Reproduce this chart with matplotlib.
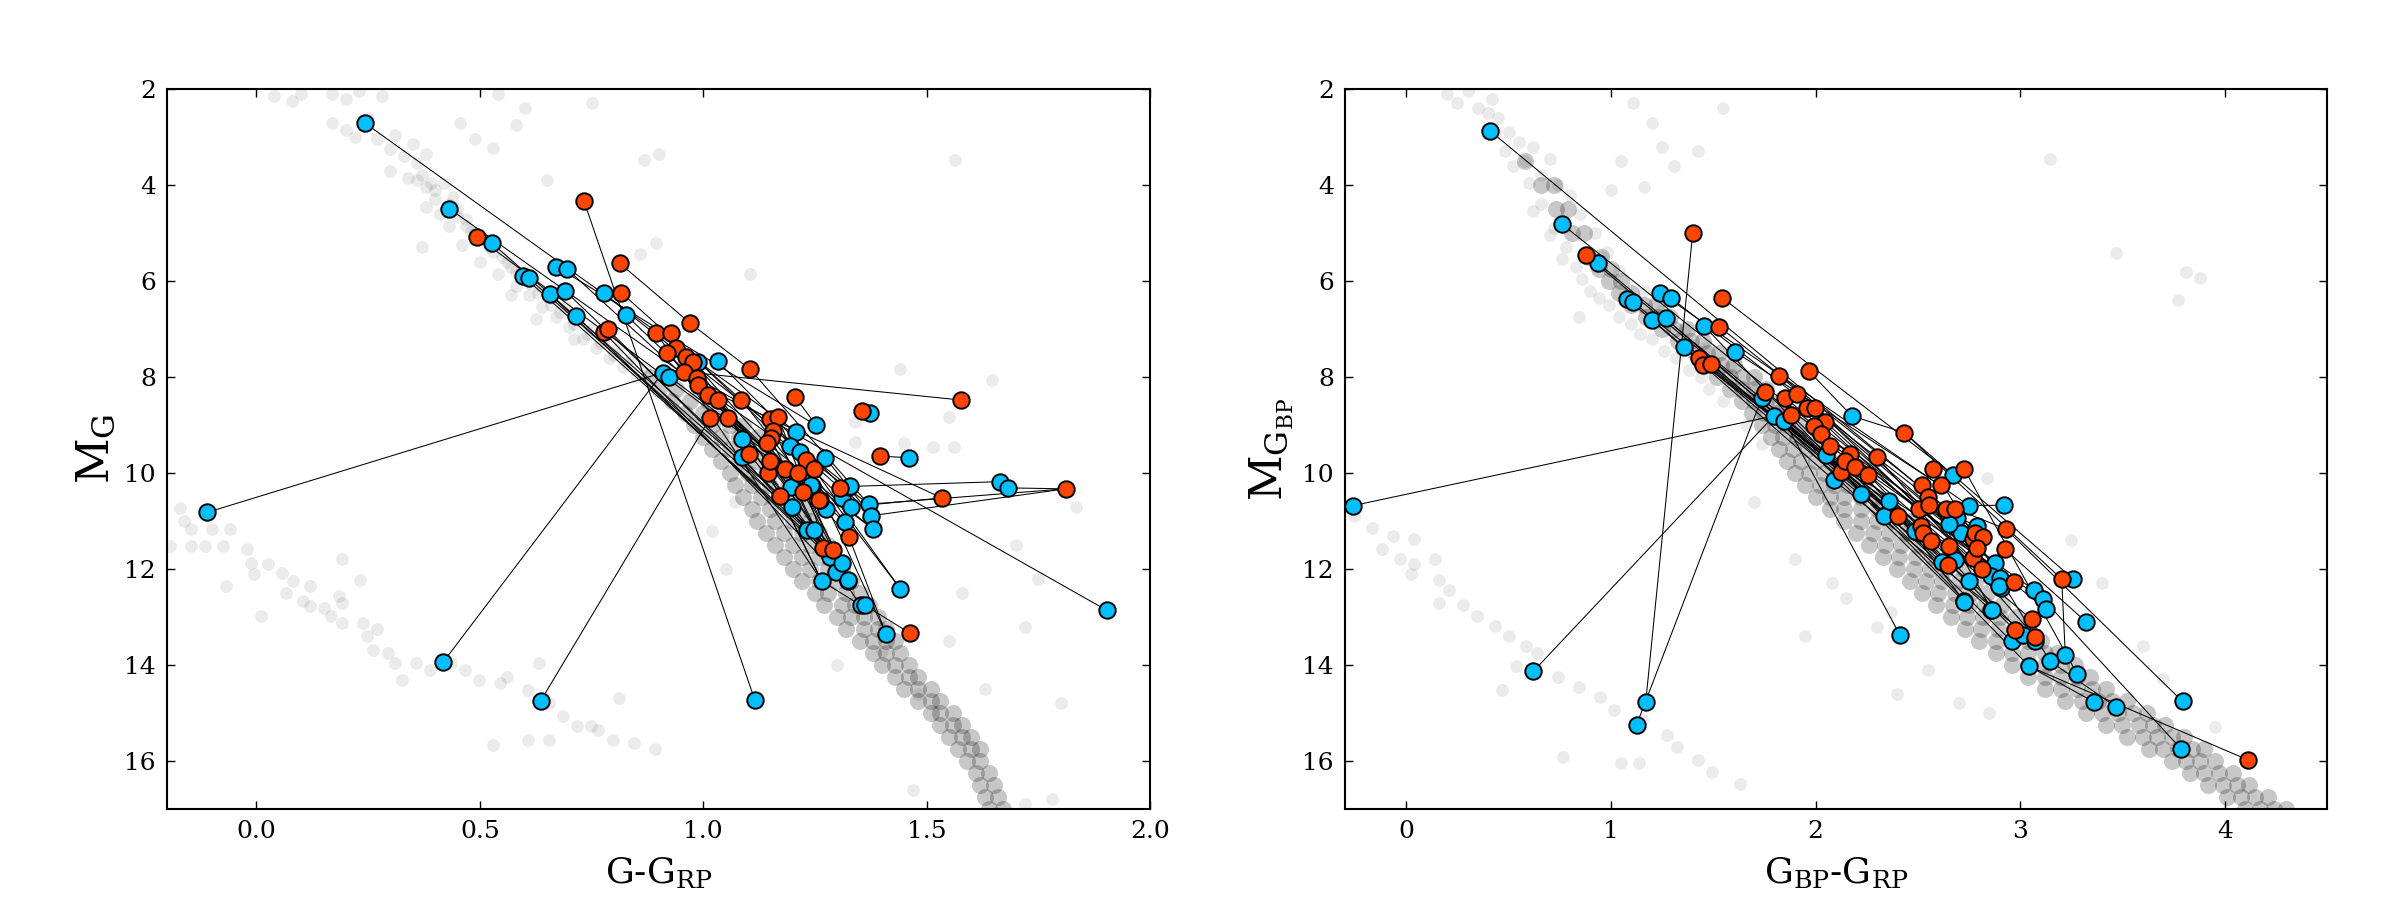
import matplotlib
matplotlib.use('Agg')
import matplotlib.pyplot as plt
from matplotlib.ticker import MultipleLocator

plt.rcParams['font.family'] = ['DejaVu Serif']
plt.rcParams['mathtext.fontset'] = 'dejavuserif'

BLUE = '#00bfff'
RED = '#ff4500'

# ---------------- left panel: G-G_RP vs M_G ----------------
# pairs: (colour a, x a, y a, colour b, x b, y b)
left_links = [
    ('b', 0.243, 2.71, 'b', 1.208, 9.14),
    ('b', 0.431, 4.49, 'r', 1.229, 9.73),
    ('r', 0.494, 5.08, 'b', 1.243, 10.27),
    ('b', 0.527, 5.21, 'r', 1.172, 10.47),
    ('r', 0.733, 4.33, 'b', 1.115, 14.72),
    ('b', 0.671, 5.70, 'b', 1.253, 9.01),
    ('b', 0.695, 5.75, 'r', 1.261, 10.56),
    ('r', 0.813, 5.63, 'r', 0.971, 6.88),
    ('r', 0.971, 6.88, 'r', 1.105, 7.84),
    ('r', 1.105, 7.84, 'b', 1.370, 10.65),
    ('b', 0.597, 5.90, 'b', 1.233, 11.19),
    ('b', 0.609, 5.94, 'b', 1.247, 11.19),
    ('b', 0.657, 6.28, 'r', 1.268, 11.56),
    ('b', 0.691, 6.21, 'b', 1.199, 10.71),
    ('b', 0.777, 6.26, 'b', 1.327, 10.29),
    ('r', 0.816, 6.24, 'r', 1.307, 10.32),
    ('b', 0.716, 6.73, 'b', 1.284, 11.76),
    ('b', 0.827, 6.71, 'b', 1.317, 11.03),
    ('r', 0.777, 7.06, 'b', 1.296, 12.06),
    ('r', 0.787, 7.01, 'b', 1.310, 11.87),
    ('r', 0.895, 7.08, 'b', 1.265, 12.25),
    ('r', 0.928, 7.09, 'r', 1.291, 11.61),
    ('r', 0.940, 7.39, 'b', 1.324, 12.24),
    ('r', 0.920, 7.51, 'b', 1.274, 10.75),
    ('r', 0.962, 7.58, 'b', 1.353, 12.76),
    ('r', 0.977, 7.68, 'r', 1.326, 11.33),
    ('b', 0.989, 7.68, 'b', 1.331, 10.70),
    ('b', 1.032, 7.67, 'b', 1.376, 10.89),
    ('r', 0.957, 7.89, 'r', 1.577, 8.48),
    ('b', 0.909, 7.91, 'b', -0.110, 10.82),
    ('b', 0.909, 7.91, 'b', 0.418, 13.94),
    ('b', 0.923, 7.99, 'b', 1.379, 11.16),
    ('r', 0.987, 8.03, 'b', 1.903, 12.86),
    ('r', 0.989, 8.17, 'r', 1.534, 10.52),
    ('r', 1.011, 8.38, 'b', 1.197, 10.30),
    ('r', 1.032, 8.48, 'r', 1.224, 10.40),
    ('r', 1.085, 8.47, 'r', 1.260, 10.56),
    ('r', 1.206, 8.42, 'b', 1.253, 9.01),
    ('r', 1.015, 8.86, 'b', 0.636, 14.75),
    ('r', 1.055, 8.85, 'b', 1.241, 10.25),
    ('r', 1.150, 8.87, 'b', 1.441, 12.41),
    ('r', 1.168, 8.83, 'b', 1.296, 12.06),
    ('r', 1.157, 9.12, 'b', 1.310, 11.87),
    ('r', 1.151, 9.28, 'b', 1.284, 11.76),
    ('r', 1.326, 11.33, 'b', 1.409, 13.35),
    ('b', 1.361, 12.75, 'r', 1.463, 13.34),
    ('b', 1.265, 12.25, 'b', 1.353, 12.76),
    ('r', 1.396, 9.65, 'b', 1.461, 9.68),
    ('r', 1.356, 8.70, 'b', 1.374, 8.74),
    ('b', 1.329, 10.28, 'b', 1.664, 10.18),
    ('b', 1.370, 10.65, 'r', 1.811, 10.33),
    ('b', 1.376, 10.89, 'r', 1.811, 10.33),
    ('b', 1.682, 10.31, 'r', 1.811, 10.33),
    ('b', 1.331, 10.70, 'r', 1.534, 10.52),
    ('r', 1.142, 9.37, 'b', 1.379, 11.16),
    ('b', 1.086, 9.30, 'b', 1.243, 10.27),
    ('r', 1.103, 9.60, 'r', 1.268, 11.56),
    ('b', 1.086, 9.66, 'b', 1.233, 11.19),
    ('r', 1.146, 9.99, 'b', 1.265, 12.25),
    ('r', 1.183, 9.92, 'b', 1.296, 12.06),
    ('r', 1.213, 9.99, 'b', 1.325, 12.23),
    ('r', 1.248, 9.92, 'b', 1.441, 12.41),
    ('b', 1.194, 9.44, 'b', 1.317, 11.03),
    ('b', 1.217, 9.56, 'b', 1.370, 10.65),
    ('b', 1.273, 9.68, 'b', 1.376, 10.89),
    ('r', 1.229, 9.73, 'b', 1.409, 13.35),
    ('r', 1.172, 10.47, 'b', 1.265, 12.25),
    ('r', 1.150, 9.76, 'b', 1.325, 12.23),
    ('r', 1.224, 10.40, 'r', 1.291, 11.61),
]
left_lone_blue = [(1.310, 10.53)]
left_lone_red = []

# dense main-sequence band: (M, list of colours)
left_ms_rows = [
    (8.0, [0.88, 0.92]),
    (8.25, [0.90, 0.94]),
    (8.5, [0.93, 0.97, 1.01]),
    (8.75, [0.96, 1.00, 1.04]),
    (9.0, [0.98, 1.02, 1.06, 1.09]),
    (9.25, [1.00, 1.04, 1.08, 1.12]),
    (9.5, [1.02, 1.06, 1.10, 1.14]),
    (9.75, [1.04, 1.08, 1.12, 1.16]),
    (10.0, [1.06, 1.10, 1.14, 1.18]),
    (10.25, [1.07, 1.11, 1.15, 1.19]),
    (10.5, [1.09, 1.13, 1.17, 1.21]),
    (10.75, [1.11, 1.15, 1.19, 1.23]),
    (11.0, [1.12, 1.16, 1.20, 1.24]),
    (11.25, [1.14, 1.18, 1.22, 1.26]),
    (11.5, [1.16, 1.20, 1.24, 1.28]),
    (11.75, [1.18, 1.22, 1.26, 1.29]),
    (12.0, [1.20, 1.24, 1.28, 1.31]),
    (12.25, [1.22, 1.26, 1.30, 1.33]),
    (12.5, [1.25, 1.28, 1.32, 1.35]),
    (12.75, [1.27, 1.31, 1.34, 1.37]),
    (13.0, [1.30, 1.33, 1.36, 1.39]),
    (13.25, [1.32, 1.36, 1.39, 1.41]),
    (13.5, [1.35, 1.38, 1.41, 1.43]),
    (13.75, [1.38, 1.41, 1.44]),
    (14.0, [1.40, 1.43, 1.46]),
    (14.25, [1.43, 1.46, 1.48]),
    (14.5, [1.45, 1.48, 1.51]),
    (14.75, [1.48, 1.51, 1.53]),
    (15.0, [1.51, 1.53, 1.56]),
    (15.25, [1.53, 1.56, 1.58]),
    (15.5, [1.55, 1.58, 1.60]),
    (15.75, [1.57, 1.60, 1.62]),
    (16.0, [1.59, 1.62]),
    (16.25, [1.61, 1.64]),
    (16.5, [1.62, 1.65]),
    (16.75, [1.63, 1.66]),
    (17.0, [1.64, 1.67]),
]

left_field = [
    (0.04, 2.15), (0.08, 2.25), (0.10, 2.10), (0.17, 2.10), (0.20, 2.20), (0.23, 2.05),
    (0.28, 2.15), (0.17, 2.70), (0.20, 2.85), (0.22, 3.00), (0.25, 2.60), (0.27, 3.05),
    (0.30, 3.25), (0.31, 2.95), (0.33, 3.40), (0.35, 3.15), (0.36, 3.55), (0.38, 3.35),
    (0.30, 3.70), (0.34, 3.85), (0.37, 3.80), (0.39, 3.95), (0.40, 4.10), (0.42, 3.95),
    (0.44, 4.25), (0.38, 4.45), (0.41, 4.60), (0.45, 4.50), (0.47, 4.70), (0.43, 4.85),
    (0.48, 4.95), (0.50, 5.10), (0.46, 5.25), (0.52, 5.30), (0.55, 5.50), (0.50, 5.60),
    (0.57, 5.70), (0.54, 5.85), (0.60, 5.95), (0.58, 6.10), (0.63, 6.10), (0.61, 6.30),
    (0.66, 6.35), (0.64, 6.55), (0.69, 6.55), (0.67, 6.75), (0.72, 6.80), (0.70, 6.95),
    (0.75, 7.00), (0.73, 7.20), (0.78, 7.20), (0.76, 7.40), (0.81, 7.40), (0.79, 7.60),
    (0.84, 7.60), (0.82, 7.80), (0.87, 7.80), (0.85, 8.00),
    (0.36, 3.90), (0.38, 4.05), (0.40, 4.30), (0.43, 4.40), (0.45, 4.65), (0.47, 4.85),
    (0.49, 5.00), (0.52, 5.15), (0.53, 5.40), (0.56, 5.60), (0.58, 5.80), (0.61, 6.05),
    (0.63, 6.25), (0.66, 6.50), (0.68, 6.65), (0.71, 6.90), (0.74, 7.10), (0.77, 7.30),
    (0.80, 7.55), (0.83, 7.70),
    (0.455, 2.71), (0.49, 3.05), (0.53, 3.22), (0.58, 2.75), (0.54, 2.10), (0.90, 3.35),
    (0.37, 5.30), (0.895, 5.20), (0.57, 6.30), (0.625, 6.80), (0.71, 7.20), (0.868, 3.48),
    (1.564, 3.48), (0.859, 5.44), (1.105, 5.85), (1.646, 8.06), (1.44, 7.84), (1.55, 8.83),
    (1.339, 8.93), (1.339, 9.35), (1.45, 9.38), (1.515, 9.45), (1.562, 9.45), (1.834, 10.70),
    (1.70, 11.50), (1.58, 12.50), (1.75, 12.20), (1.72, 13.20), (1.63, 14.50), (1.80, 14.80),
    (1.07, 10.60), (1.02, 11.20), (1.05, 12.00), (1.30, 14.00), (1.48, 14.60), (1.40, 13.70),
    (1.55, 13.50), (0.75, 2.30), (0.60, 2.40), (0.65, 3.90), (1.47, 16.60), (1.78, 16.80),
    (1.72, 16.90),
]

left_wd = [
    (-0.170, 10.72), (-0.162, 11.00), (-0.146, 11.17), (-0.099, 11.17), (-0.060, 11.17),
    (-0.193, 11.52), (-0.146, 11.52), (-0.115, 11.52), (-0.075, 11.52), (-0.020, 11.59),
    (-0.013, 11.87), (0.027, 11.90), (-0.005, 12.11), (0.058, 12.08), (0.082, 12.25),
    (0.121, 12.36), (0.066, 12.49), (0.105, 12.67), (0.121, 12.77), (0.152, 12.81),
    (0.184, 12.56), (0.192, 12.70), (0.168, 12.98), (0.192, 13.12), (0.239, 13.12),
    (0.270, 13.26), (0.247, 13.40), (0.262, 13.68), (0.294, 13.75), (0.310, 13.96),
    (0.325, 14.31), (0.357, 13.96), (0.388, 14.10), (0.435, 13.96), (0.467, 14.10),
    (0.498, 14.31), (0.545, 14.38), (0.561, 14.24), (0.608, 14.52), (0.655, 14.79),
    (0.687, 15.07), (0.718, 15.28), (0.749, 15.28), (0.765, 15.35), (0.797, 15.56),
    (0.844, 15.63), (0.891, 15.74), (0.529, 15.67), (0.608, 15.56), (0.655, 15.56),
    (0.812, 14.69), (0.632, 13.96), (0.011, 12.98), (-0.068, 12.36), (0.192, 11.80),
    (0.231, 12.22),
]

# ---------------- right panel: G_BP-G_RP vs M_G_BP ----------------
right_links = [
    ('b', 0.41, 2.875, 'b', 2.693, 10.93),
    ('b', 0.762, 4.82, 'r', 2.505, 10.75),
    ('r', 0.878, 5.46, 'b', 2.494, 11.22),
    ('b', 0.935, 5.62, 'r', 2.527, 11.24),
    ('b', 1.08, 6.38, 'b', 2.339, 10.88),
    ('b', 1.106, 6.43, 'r', 2.404, 10.90),
    ('b', 1.24, 6.24, 'b', 2.751, 10.68),
    ('b', 1.292, 6.35, 'r', 2.779, 11.26),
    ('r', 1.544, 6.35, 'b', 2.673, 10.04),
    ('b', 1.2, 6.81, 'b', 2.09, 10.15),
    ('b', 1.267, 6.78, 'r', 2.123, 9.97),
    ('b', 1.456, 6.94, 'b', 2.336, 10.89),
    ('b', 1.357, 7.37, 'b', 2.484, 11.21),
    ('b', 1.605, 7.47, 'r', 2.611, 10.26),
    ('r', 1.432, 7.60, 'r', 2.563, 11.41),
    ('r', 1.451, 7.75, 'r', 2.652, 11.52),
    ('r', 1.489, 7.72, 'b', 2.616, 11.85),
    ('r', 1.529, 6.95, 'r', 2.817, 11.33),
    ('r', 1.823, 7.97, 'b', 2.711, 11.24),
    ('r', 1.753, 8.31, 'b', 2.654, 11.06),
    ('b', 1.737, 8.44, 'b', 2.748, 12.25),
    ('r', 1.851, 8.44, 'r', 2.79, 11.57),
    ('r', 1.908, 8.35, 'b', 2.878, 11.88),
    ('b', 1.797, 8.81, 'b', 2.724, 12.67),
    ('b', 1.847, 8.91, 'b', 2.858, 12.86),
    ('r', 1.88, 8.79, 'r', 2.646, 11.92),
    ('r', 1.96, 8.65, 'r', 2.813, 12.01),
    ('r', 1.999, 8.64, 'b', 2.856, 12.15),
    ('r', 2.046, 8.93, 'b', 2.901, 12.19),
    ('r', 1.994, 9.03, 'r', 2.97, 12.28),
    ('r', 2.027, 9.19, 'b', 2.906, 12.40),
    ('r', 2.07, 9.44, 'b', 3.069, 12.44),
    ('b', 2.051, 9.63, 'b', 3.113, 12.63),
    ('r', 2.168, 9.61, 'b', 3.125, 12.83),
    ('r', 2.144, 9.76, 'r', 3.056, 13.05),
    ('r', 2.193, 9.88, 'r', 2.975, 13.28),
    ('r', 2.302, 9.67, 'r', 3.072, 13.41),
    ('r', 2.123, 9.97, 'b', 2.959, 13.51),
    ('r', 2.258, 10.04, 'b', 3.016, 13.38),
    ('b', 2.09, 10.15, 'b', 3.072, 13.51),
    ('b', 2.222, 10.44, 'b', 3.045, 14.03),
    ('r', 2.576, 9.92, 'b', 3.146, 13.92),
    ('r', 2.727, 9.92, 'b', 3.279, 14.19),
    ('r', 2.434, 9.16, 'r', 3.203, 12.21),
    ('r', 2.434, 9.16, 'b', 3.26, 12.21),
    ('r', 3.203, 12.21, 'b', 3.221, 13.80),
    ('b', 3.045, 14.03, 'r', 4.115, 15.98),
    ('b', 3.045, 14.03, 'b', 3.361, 14.77),
    ('b', 3.146, 13.92, 'b', 3.468, 14.87),
    ('r', 2.931, 11.17, 'b', 3.794, 14.76),
    ('b', 3.113, 12.63, 'b', 3.785, 15.74),
    ('b', 2.922, 10.67, 'b', 2.751, 10.68),
    ('b', 3.322, 13.10, 'r', 2.926, 11.59),
    ('b', -0.261, 10.68, 'b', 1.797, 8.81),
    ('b', 0.621, 14.13, 'b', 1.797, 8.81),
    ('b', 1.17, 14.77, 'r', 1.40, 4.99),
    ('b', 1.125, 15.25, 'b', 1.737, 8.44),
    ('b', 2.412, 13.37, 'b', 1.847, 8.91),
    ('b', 2.36, 10.58, 'b', 2.727, 12.68),
    ('r', 2.518, 10.24, 'b', 2.861, 12.85),
    ('r', 2.551, 10.51, 'r', 2.97, 12.28),
    ('r', 1.966, 7.87, 'b', 2.177, 8.81),
    ('b', 2.177, 8.81, 'r', 2.434, 9.16),
    ('r', 2.556, 10.67, 'b', 2.787, 11.10),
    ('r', 2.637, 10.76, 'b', 2.895, 12.36),
    ('r', 2.681, 10.74, 'r', 2.931, 11.17),
]
right_lone_blue = [(2.681, 11.81)]
right_lone_red = [(2.515, 11.10), (2.771, 11.78), (2.772, 11.38)]

right_ms_rows = [
    (3.5, [0.58]),
    (4.0, [0.66, 0.72]),
    (4.5, [0.73, 0.79]),
    (5.0, [0.81, 0.87]),
    (5.5, [0.89, 0.95]),
    (5.75, [0.94, 1.00]),
    (6.0, [0.99, 1.05]),
    (6.25, [1.04, 1.10]),
    (6.5, [1.10, 1.16, 1.22]),
    (6.75, [1.17, 1.23, 1.29]),
    (7.0, [1.25, 1.31, 1.37]),
    (7.25, [1.33, 1.39, 1.45]),
    (7.5, [1.41, 1.47, 1.53]),
    (7.75, [1.48, 1.54, 1.60]),
    (8.0, [1.52, 1.58, 1.64, 1.70]),
    (8.25, [1.58, 1.64, 1.70, 1.76]),
    (8.5, [1.64, 1.70, 1.76, 1.82]),
    (8.75, [1.69, 1.75, 1.81, 1.87]),
    (9.0, [1.74, 1.80, 1.86, 1.92]),
    (9.25, [1.78, 1.84, 1.91, 1.97]),
    (9.5, [1.82, 1.89, 1.96, 2.03]),
    (9.75, [1.86, 1.93, 2.00, 2.07]),
    (10.0, [1.90, 1.97, 2.04, 2.11, 2.18]),
    (10.25, [1.95, 2.02, 2.09, 2.16, 2.23]),
    (10.5, [2.00, 2.07, 2.14, 2.22, 2.30]),
    (10.75, [2.07, 2.14, 2.22, 2.30, 2.38]),
    (11.0, [2.14, 2.22, 2.30, 2.38, 2.46]),
    (11.25, [2.20, 2.28, 2.36, 2.44, 2.52]),
    (11.5, [2.26, 2.34, 2.42, 2.50, 2.58]),
    (11.75, [2.33, 2.41, 2.49, 2.57, 2.65]),
    (12.0, [2.40, 2.48, 2.56, 2.64, 2.72]),
    (12.25, [2.46, 2.54, 2.62, 2.70, 2.78]),
    (12.5, [2.52, 2.60, 2.68, 2.76, 2.84]),
    (12.75, [2.59, 2.67, 2.75, 2.83, 2.91]),
    (13.0, [2.66, 2.74, 2.82, 2.90, 2.98]),
    (13.25, [2.73, 2.81, 2.89, 2.97, 3.04]),
    (13.5, [2.80, 2.88, 2.96, 3.04, 3.10]),
    (13.75, [2.88, 2.96, 3.04, 3.12, 3.18]),
    (14.0, [2.96, 3.04, 3.12, 3.20, 3.27]),
    (14.25, [3.04, 3.12, 3.20, 3.28, 3.34]),
    (14.5, [3.12, 3.20, 3.28, 3.35, 3.42]),
    (14.75, [3.22, 3.30, 3.38, 3.45, 3.52]),
    (15.0, [3.32, 3.40, 3.48, 3.55, 3.62]),
    (15.25, [3.42, 3.50, 3.58, 3.65, 3.71]),
    (15.5, [3.52, 3.60, 3.67, 3.74, 3.80]),
    (15.75, [3.63, 3.70, 3.77, 3.84, 3.90]),
    (16.0, [3.74, 3.81, 3.88, 3.95]),
    (16.25, [3.83, 3.90, 3.97, 4.04]),
    (16.5, [3.92, 3.99, 4.06, 4.12]),
    (16.75, [4.01, 4.08, 4.15, 4.21]),
    (17.0, [4.10, 4.17, 4.24, 4.30]),
]

right_field = [
    (0.246, 2.29), (0.20, 2.10), (0.30, 2.05), (0.35, 2.40), (0.42, 2.20), (0.45, 2.60),
    (0.50, 2.90), (0.55, 3.10), (0.48, 3.30), (0.58, 3.50), (0.62, 3.20), (0.66, 3.80),
    (0.70, 3.45), (0.74, 4.00), (0.66, 4.40), (0.80, 4.20), (0.72, 4.90), (0.85, 4.60),
    (0.78, 5.30), (0.92, 5.00), (0.83, 5.70), (0.98, 5.40), (0.90, 6.20), (1.04, 5.80),
    (0.99, 6.50), (1.16, 6.20), (1.10, 6.90), (1.25, 6.60), (1.20, 7.20), (1.36, 7.00),
    (1.32, 7.60), (1.46, 7.40), (1.44, 8.00), (1.58, 7.80), (1.55, 8.50), (1.70, 8.30),
    (1.66, 9.00), (1.80, 8.80), (1.74, 9.40), (1.90, 9.30),
    (0.40, 2.50), (0.44, 2.90), (0.52, 3.60), (0.60, 3.95), (0.62, 4.55), (0.70, 5.05),
    (0.76, 5.55), (0.86, 5.95), (0.94, 6.35), (1.04, 6.75), (1.14, 7.10), (1.26, 7.45),
    (1.38, 7.85), (1.48, 8.25),
    (1.11, 2.30), (1.20, 2.70), (1.31, 3.60), (1.25, 3.20), (1.424, 3.29), (1.16, 4.04),
    (0.998, 4.10), (0.844, 6.76), (3.144, 3.46), (3.47, 5.41), (3.81, 5.81), (3.88, 5.94),
    (3.77, 6.40), (2.84, 10.10), (1.70, 10.60), (1.90, 11.80), (2.08, 12.30), (2.15, 12.60),
    (1.95, 13.40), (2.30, 13.20), (3.25, 11.40), (3.40, 12.30), (3.60, 13.60), (3.70, 14.30),
    (3.95, 15.30), (2.55, 14.10), (2.70, 14.80), (2.85, 15.00), (1.55, 2.40), (1.05, 3.50),
    (2.37, 12.90), (2.40, 14.60),
]

right_wd = [
    (-0.254, 10.89), (-0.168, 11.14), (-0.065, 11.31), (-0.117, 11.59), (-0.031, 11.80),
    (0.038, 11.90), (0.021, 12.11), (0.158, 12.22), (0.209, 12.43), (0.158, 12.70),
    (0.278, 12.74), (0.346, 12.98), (0.432, 13.19), (0.501, 13.40), (0.587, 13.61),
    (0.638, 13.75), (0.535, 14.03), (0.741, 14.24), (0.844, 14.45), (0.947, 14.66),
    (1.015, 14.93), (1.153, 15.14), (1.273, 15.46), (1.324, 15.70), (1.427, 15.98),
    (1.496, 16.22), (1.633, 16.47), (0.038, 11.38), (0.141, 11.80), (0.467, 14.52),
    (0.768, 15.91), (1.050, 16.05), (1.136, 16.05),
]


def draw_panel(ax, links, lone_blue, lone_red, ms_rows, field, wd):
    ms_x = [x for y, xs in ms_rows for x in xs]
    ms_y = [y for y, xs in ms_rows for x in xs]
    ax.scatter(ms_x, ms_y, s=150, c='k', alpha=0.22, linewidths=0, zorder=1)
    bg = field + wd
    ax.scatter([p[0] for p in bg], [p[1] for p in bg], s=85, c='k',
               alpha=0.08, linewidths=0, zorder=1)

    for ca, xa, ya, cb, xb, yb in links:
        ax.plot([xa, xb], [ya, yb], color='k', lw=0.75, zorder=2)

    blues = dict.fromkeys(lone_blue)
    reds = dict.fromkeys(lone_red)
    for ca, xa, ya, cb, xb, yb in links:
        (blues if ca == 'b' else reds)[(xa, ya)] = None
        (blues if cb == 'b' else reds)[(xb, yb)] = None
    for pts, col in ((blues, BLUE), (reds, RED)):
        ax.scatter([p[0] for p in pts], [p[1] for p in pts], s=140, c=col,
                   edgecolors='k', linewidths=1.4, zorder=3)

    ax.set_ylim(17, 2)
    ax.yaxis.set_major_locator(MultipleLocator(2))
    ax.tick_params(direction='in', top=True, right=True, length=6, width=1,
                   labelsize=18, pad=8)
    for sp in ax.spines.values():
        sp.set_linewidth(1.5)


fig = plt.figure(figsize=(24, 9), dpi=100)

ax1 = fig.add_axes([0.0696, 0.1011, 0.4096, 0.8])
draw_panel(ax1, left_links, left_lone_blue, left_lone_red,
           left_ms_rows, left_field, left_wd)
ax1.set_xlim(-0.2, 2.0)
ax1.xaxis.set_major_locator(MultipleLocator(0.5))
ax1.set_xlabel('G-G$_{\\mathrm{RP}}$', fontsize=26)
ax1.set_ylabel('M$_{\\mathrm{G}}$', fontsize=32)
ax1.xaxis.set_label_coords(0.5, -0.065)
ax1.yaxis.set_label_coords(-0.05, 0.5)

ax2 = fig.add_axes([0.5604, 0.1011, 0.4092, 0.8])
draw_panel(ax2, right_links, right_lone_blue, right_lone_red,
           right_ms_rows, right_field, right_wd)
ax2.set_xlim(-0.3, 4.5)
ax2.xaxis.set_major_locator(MultipleLocator(1))
ax2.set_xlabel('G$_{\\mathrm{BP}}$-G$_{\\mathrm{RP}}$', fontsize=26)
ax2.set_ylabel('M$_{\\mathrm{G_{BP}}}$', fontsize=32)
ax2.xaxis.set_label_coords(0.5, -0.065)
ax2.yaxis.set_label_coords(-0.05, 0.5)

fig.savefig('out.png', dpi=100)
